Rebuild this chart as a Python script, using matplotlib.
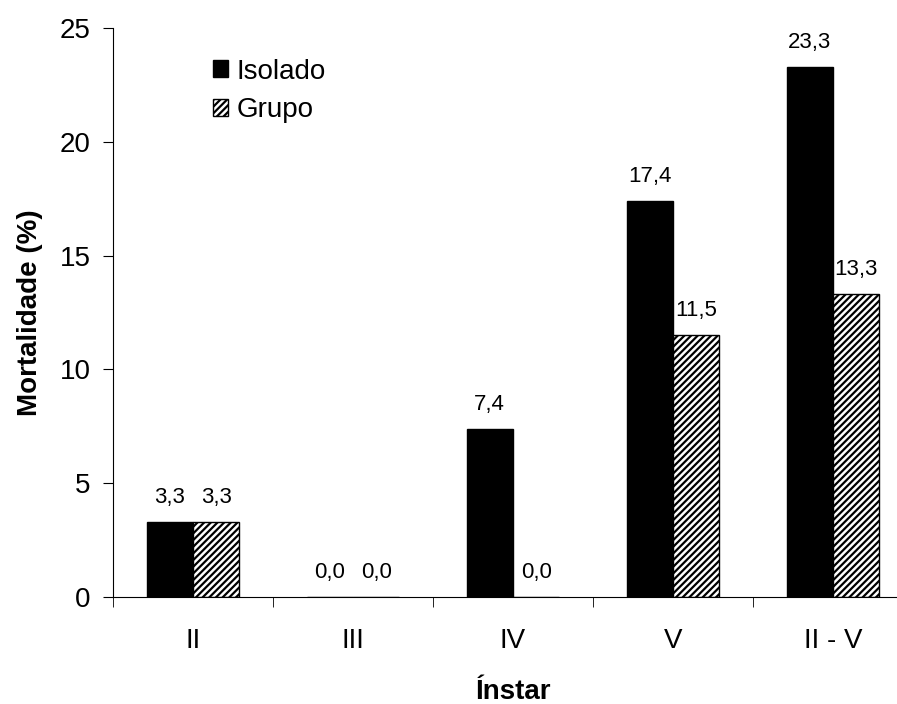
import matplotlib
matplotlib.use('Agg')
import matplotlib.pyplot as plt
import numpy as np

plt.rcParams['font.family'] = ['Liberation Sans', 'DejaVu Sans']
plt.rcParams['hatch.linewidth'] = 1.6

instar = ['II', 'III', 'IV', 'V', 'II - V']
isolado = [3.3, 0.0, 7.4, 17.4, 23.3]
grupo = [3.3, 0.0, 0.0, 11.5, 13.3]

fig = plt.figure(figsize=(8.97, 7.04), dpi=100)
ax = fig.add_axes([113 / 897, 1 - 597 / 704, 800 / 897, (597 - 28) / 704])

x = np.arange(len(instar))
w = 0.29
b1 = ax.bar(x - w / 2, isolado, w, color='black', edgecolor='black', linewidth=1, label='Isolado')
b2 = ax.bar(x + w / 2, grupo, w, color='white', edgecolor='black', linewidth=1, hatch='/////', label='Grupo')

for bars, vals in ((b1, isolado), (b2, grupo)):
    for r, v in zip(bars, vals):
        ax.annotate(f'{v:.1f}'.replace('.', ','), (r.get_x() + r.get_width() / 2, v),
                    xytext=(0, 10), textcoords='offset points', ha='center', va='bottom', fontsize=16)

ax.set_xlim(-0.5, 4.5)
ax.set_ylim(0, 25)
ax.set_yticks([0, 5, 10, 15, 20, 25])
ax.set_xticks(x)
ax.set_xticklabels(instar, fontsize=20)
ax.set_xticks(np.arange(-0.5, 4.6, 1), minor=True)
ax.tick_params(axis='x', which='major', length=0, pad=22)
ax.tick_params(axis='x', which='minor', length=7, direction='out')
ax.tick_params(axis='y', labelsize=20, length=7, direction='out', pad=9)
ax.spines['top'].set_visible(False)
ax.spines['right'].set_visible(False)

ax.set_ylabel('Mortalidade (%)', fontsize=20, fontweight='bold', labelpad=12)
ax.set_xlabel('Ínstar', fontsize=20, fontweight='bold', labelpad=18)

ax.legend(loc='upper left', bbox_to_anchor=(0.094, 0.99), frameon=False, fontsize=20,
          handlelength=0.55, handleheight=0.55, handletextpad=0.3, labelspacing=0.45)

fig.savefig('out.png', dpi=100)
